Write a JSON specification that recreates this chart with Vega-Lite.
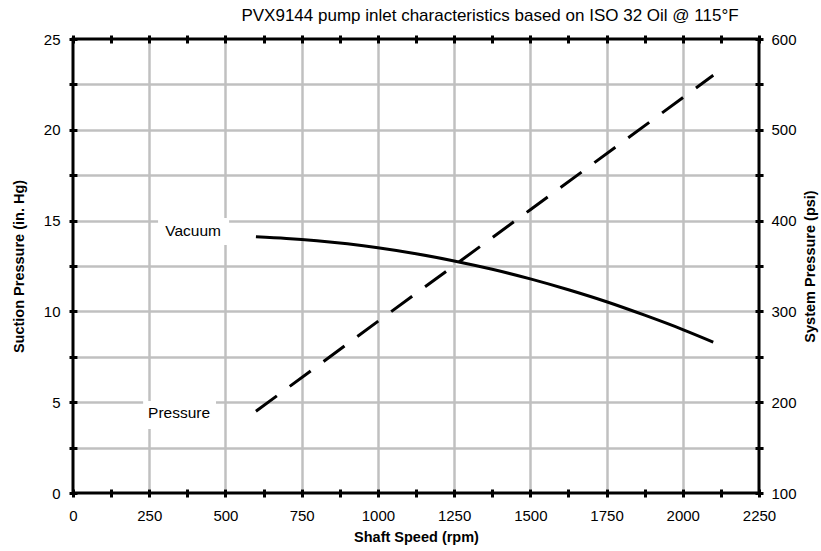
{
  "$schema": "https://vega.github.io/schema/vega-lite/v6.json",
  "width": 686,
  "height": 454,
  "autosize": {"type": "none"},
  "padding": {"left": 73, "top": 39, "right": 62, "bottom": 58},
  "background": "white",
  "title": {
    "text": "PVX9144 pump inlet characteristics based on ISO 32 Oil @ 115°F",
    "fontSize": 17,
    "fontWeight": "normal",
    "font": "Liberation Sans",
    "anchor": "middle",
    "dx": 74,
    "offset": 7,
    "color": "black"
  },
  "config": {
    "view": {"stroke": "black", "strokeWidth": 3},
    "axis": {
      "domain": false,
      "offset": -4,
      "tickSize": 8,
      "tickWidth": 3,
      "tickColor": "black",
      "labelFont": "Liberation Sans",
      "labelFontSize": 15,
      "labelColor": "black",
      "labelFlush": false,
      "labelOverlap": false,
      "titleFont": "Liberation Sans",
      "titleFontSize": 14.5,
      "titleFontWeight": "bold",
      "titleColor": "black",
      "gridColor": "#c0c0c0",
      "gridWidth": 2.5
    }
  },
  "datasets": {
    "vacuum": [
      {"speed": 600, "suction": 14.11},
      {"speed": 700, "suction": 14.02},
      {"speed": 800, "suction": 13.89},
      {"speed": 900, "suction": 13.72},
      {"speed": 1000, "suction": 13.51},
      {"speed": 1125, "suction": 13.18},
      {"speed": 1250, "suction": 12.78},
      {"speed": 1375, "suction": 12.32},
      {"speed": 1500, "suction": 11.79},
      {"speed": 1625, "suction": 11.19},
      {"speed": 1750, "suction": 10.53},
      {"speed": 1875, "suction": 9.79},
      {"speed": 2000, "suction": 9.0},
      {"speed": 2100, "suction": 8.31}
    ],
    "pressure": [
      {"speed": 600, "psi": 190},
      {"speed": 1000, "psi": 289},
      {"speed": 1500, "psi": 412},
      {"speed": 2100, "psi": 560}
    ],
    "labels": [
      {"label": "Vacuum", "tx": 394, "ty": 14.4, "x0": 279, "x1": 512, "y0": 13.66, "y1": 15.14},
      {"label": "Pressure", "tx": 348, "ty": 4.38, "x0": 230, "x1": 469, "y0": 3.52, "y1": 5.07}
    ]
  },
  "layer": [
    {
      "data": {"name": "vacuum"},
      "mark": {"type": "line", "color": "black", "strokeWidth": 3, "interpolate": "monotone"},
      "encoding": {
        "x": {
          "field": "speed",
          "type": "quantitative",
          "scale": {"domain": [0, 2250], "nice": false},
          "axis": {
            "orient": "bottom",
            "title": "Shaft Speed (rpm)",
            "values": [0, 125, 250, 375, 500, 625, 750, 875, 1000, 1125, 1250, 1375, 1500, 1625, 1750, 1875, 2000, 2125, 2250],
            "format": "d",
            "labelExpr": "datum.value % 250 === 0 ? datum.label : ''",
            "labelPadding": 11,
            "titlePadding": 7,
            "grid": true,
            "gridOpacity": {"condition": {"test": "datum.value % 250 === 0 && datum.value > 0 && datum.value < 2250", "value": 1}, "value": 0}
          }
        },
        "y": {
          "field": "suction",
          "type": "quantitative",
          "scale": {"domain": [0, 25], "nice": false},
          "axis": {
            "orient": "left",
            "title": "Suction Pressure (in. Hg)",
            "values": [0, 2.5, 5, 7.5, 10, 12.5, 15, 17.5, 20, 22.5, 25],
            "labelExpr": "datum.value % 5 === 0 ? datum.label : ''",
            "labelPadding": 9,
            "titlePadding": 17,
            "grid": true,
            "gridOpacity": {"condition": {"test": "datum.value > 0 && datum.value < 25", "value": 1}, "value": 0}
          }
        }
      }
    },
    {
      "data": {"name": "labels"},
      "mark": {"type": "rect", "fill": "white"},
      "encoding": {
        "x": {"field": "x0", "type": "quantitative", "axis": null},
        "x2": {"field": "x1"},
        "y": {"field": "y0", "type": "quantitative", "scale": {"domain": [0, 25], "nice": false}, "axis": null},
        "y2": {"field": "y1"}
      }
    },
    {
      "data": {"name": "labels"},
      "mark": {"type": "text", "fontSize": 15.5, "font": "Liberation Sans", "color": "black"},
      "encoding": {
        "x": {"field": "tx", "type": "quantitative", "axis": null},
        "y": {"field": "ty", "type": "quantitative", "scale": {"domain": [0, 25], "nice": false}, "axis": null},
        "text": {"field": "label"}
      }
    },
    {
      "data": {"name": "pressure"},
      "mark": {"type": "line", "color": "black", "strokeWidth": 3, "strokeDash": [26, 16]},
      "encoding": {
        "x": {
          "field": "speed",
          "type": "quantitative",
          "scale": {"domain": [0, 2250], "nice": false},
          "axis": {
            "orient": "top",
            "title": null,
            "values": [0, 125, 250, 375, 500, 625, 750, 875, 1000, 1125, 1250, 1375, 1500, 1625, 1750, 1875, 2000, 2125, 2250],
            "labels": false,
            "grid": false
          }
        },
        "y": {
          "field": "psi",
          "type": "quantitative",
          "scale": {"domain": [100, 600], "nice": false},
          "axis": {
            "orient": "right",
            "title": "System Pressure (psi)",
            "titleAngle": 270,
            "titleBaseline": "top",
            "values": [100, 150, 200, 250, 300, 350, 400, 450, 500, 550, 600],
            "format": "d",
            "labelExpr": "datum.value % 100 === 0 ? datum.label : ''",
            "labelPadding": 8,
            "titlePadding": 7,
            "grid": false
          }
        }
      }
    }
  ],
  "resolve": {"scale": {"y": "independent"}, "axis": {"x": "independent", "y": "independent"}}
}
